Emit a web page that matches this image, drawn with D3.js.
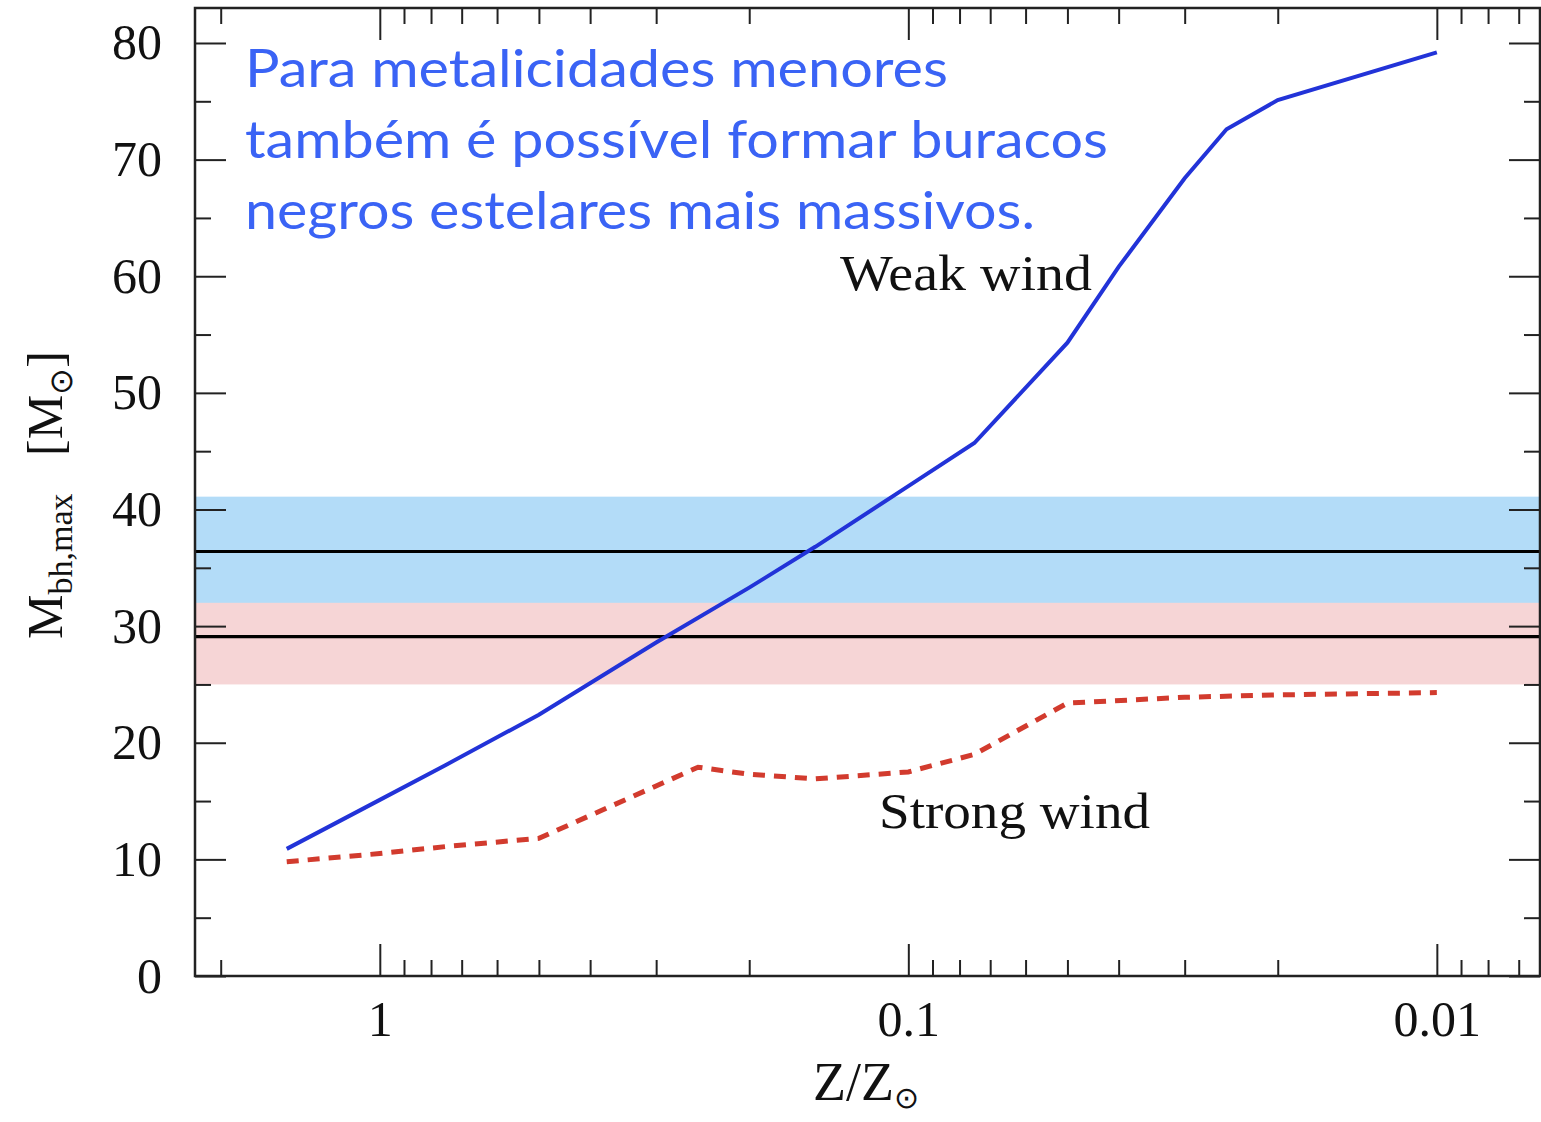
<!DOCTYPE html>
<html>
<head>
<meta charset="utf-8">
<script src="https://cdn.jsdelivr.net/npm/d3@7"></script>
<style>
  body { margin: 0; background: #fff; }
  svg { display: block; }
</style>
</head>
<body>
<svg id="chart" width="1541" height="1122"></svg>
<script>
// metallicity Z/Zsun and max black hole mass (Msun)
var weakZ = [1.5, 1, 0.75, 0.5, 0.3, 0.2, 0.15, 0.1, 0.075, 0.05, 0.04, 0.03, 0.025, 0.02, 0.01];
var weakM = [10.9, 15.1, 18.1, 22.4, 28.6, 33.3, 36.8, 42.0, 45.7, 54.3, 60.8, 68.4, 72.6, 75.1, 79.2];

var strongZ = [1.5, 1, 0.75, 0.5, 0.25, 0.2, 0.15, 0.1, 0.075, 0.05, 0.03, 0.02, 0.01];
var strongM = [9.8, 10.5, 11.1, 11.8, 17.9, 17.3, 16.9, 17.5, 19.0, 23.4, 23.9, 24.1, 24.3];

// GW150914 component masses and bands
var bandNames = ["m2", "m1"];
var bandLow = [25.0, 32.0];
var bandHigh = [33.0, 41.1];
var bandMid = [29.1, 36.4];
var bandColors = ["#f6d5d6", "#b3dcf8"];

var xMajor = [1, 0.1, 0.01];
var xMajorLabels = ["1", "0.1", "0.01"];
var xMinor = [2, 0.9, 0.8, 0.7, 0.6, 0.5, 0.4, 0.3, 0.2,
              0.09, 0.08, 0.07, 0.06, 0.05, 0.04, 0.03, 0.02,
              0.009, 0.008, 0.007];
var yMajor = [0, 10, 20, 30, 40, 50, 60, 70, 80];
var yMinor = [5, 15, 25, 35, 45, 55, 65, 75];

var noteLines = ["Para metalicidades menores",
                 "também é possível formar buracos",
                 "negros estelares mais massivos."];

var pLeft = 195, pRight = 1540, pTop = 8, pBottom = 976;

var svg = d3.select("#chart");

var x = d3.scaleLog().domain([2.237, 0.00638]).range([pLeft, pRight]);
var y = d3.scaleLinear().domain([0, 83]).range([pBottom, pTop]);

// bands
svg.append("g").selectAll("rect")
    .data(bandNames)
    .enter()
    .append("rect")
    .attr("x", pLeft)
    .attr("width", pRight - pLeft)
    .attr("y", (d, i) => y(bandHigh[i]))
    .attr("height", (d, i) => y(bandLow[i]) - y(bandHigh[i]))
    .attr("fill", (d, i) => bandColors[i]);

svg.append("g").selectAll("line")
    .data(bandMid)
    .enter()
    .append("line")
    .attr("x1", pLeft).attr("x2", pRight)
    .attr("y1", d => y(d)).attr("y2", d => y(d))
    .attr("stroke", "#000")
    .attr("stroke-width", 3.2);

// curves
var line = d3.line()
    .x(d => x(d[0]))
    .y(d => y(d[1]));

svg.append("path")
    .datum(d3.zip(weakZ, weakM))
    .attr("d", line)
    .attr("fill", "none")
    .attr("stroke", "#2233d8")
    .attr("stroke-width", 4);

svg.append("path")
    .datum(d3.zip(strongZ, strongM))
    .attr("d", line)
    .attr("fill", "none")
    .attr("stroke", "#d23b2e")
    .attr("stroke-width", 5)
    .attr("stroke-dasharray", "12,9");

// axes: ticks pointing inward on all four sides
function styleAxis(g) {
    g.select(".domain").remove();
    g.selectAll(".tick line").attr("stroke", "#222").attr("stroke-width", 2);
    g.selectAll("text")
        .attr("font-family", "Liberation Serif, serif")
        .attr("font-size", 50)
        .attr("fill", "#111");
}

svg.append("g").attr("transform", "translate(0," + pBottom + ")")
    .call(d3.axisBottom(x).tickValues(xMajor).tickSize(-32).tickPadding(24)
        .tickFormat((d, i) => xMajorLabels[i]))
    .call(styleAxis);
svg.append("g").attr("transform", "translate(0," + pBottom + ")")
    .call(d3.axisBottom(x).tickValues(xMinor).tickSize(-16).tickFormat(""))
    .call(styleAxis);
svg.append("g").attr("transform", "translate(0," + pTop + ")")
    .call(d3.axisTop(x).tickValues(xMajor).tickSize(-32).tickFormat(""))
    .call(styleAxis);
svg.append("g").attr("transform", "translate(0," + pTop + ")")
    .call(d3.axisTop(x).tickValues(xMinor).tickSize(-16).tickFormat(""))
    .call(styleAxis);

svg.append("g").attr("transform", "translate(" + pLeft + ",0)")
    .call(d3.axisLeft(y).tickValues(yMajor).tickSize(-31).tickPadding(33))
    .call(styleAxis);
svg.append("g").attr("transform", "translate(" + pLeft + ",0)")
    .call(d3.axisLeft(y).tickValues(yMinor).tickSize(-16).tickFormat(""))
    .call(styleAxis);
svg.append("g").attr("transform", "translate(" + pRight + ",0)")
    .call(d3.axisRight(y).tickValues(yMajor).tickSize(-31).tickFormat(""))
    .call(styleAxis);
svg.append("g").attr("transform", "translate(" + pRight + ",0)")
    .call(d3.axisRight(y).tickValues(yMinor).tickSize(-16).tickFormat(""))
    .call(styleAxis);

// frame
svg.append("rect")
    .attr("x", pLeft).attr("y", pTop)
    .attr("width", pRight - pLeft).attr("height", pBottom - pTop)
    .attr("fill", "none")
    .attr("stroke", "#222")
    .attr("stroke-width", 2.5);

// axis titles
var xt = svg.append("text")
    .attr("x", 866).attr("y", 1100)
    .attr("text-anchor", "middle")
    .attr("font-family", "Liberation Serif, serif")
    .attr("font-size", 54)
    .attr("fill", "#111");
xt.append("tspan").text("Z/Z");
xt.append("tspan").attr("font-size", 30).attr("dy", 8).text("\u2299");

var yt = svg.append("text")
    .attr("transform", "translate(62,495) rotate(-90)")
    .attr("text-anchor", "middle")
    .attr("font-family", "Liberation Serif, serif")
    .attr("font-size", 50)
    .attr("fill", "#111");
yt.append("tspan").text("M");
yt.append("tspan").attr("font-size", 34).attr("dy", 10).text("bh,max");
yt.append("tspan").attr("dy", -10).text("\u2002 [M");
yt.append("tspan").attr("font-size", 32).attr("dy", 10).text("\u2299");
yt.append("tspan").attr("dy", -10).text("]");

// curve labels
svg.append("text")
    .attr("x", 840).attr("y", 290)
    .attr("font-family", "Liberation Serif, serif")
    .attr("font-size", 50)
    .attr("textLength", 252)
    .attr("lengthAdjust", "spacingAndGlyphs")
    .attr("fill", "#111")
    .text("Weak wind");

svg.append("text")
    .attr("x", 879).attr("y", 828)
    .attr("font-family", "Liberation Serif, serif")
    .attr("font-size", 50)
    .attr("textLength", 271)
    .attr("lengthAdjust", "spacingAndGlyphs")
    .attr("fill", "#111")
    .text("Strong wind");

// annotation
var noteWidths = [703, 863, 790];
svg.append("g").selectAll("text")
    .data(noteLines)
    .enter()
    .append("text")
    .attr("x", 245)
    .attr("y", (d, i) => 87 + i * 71)
    .attr("font-family", "Lato, 'Open Sans', sans-serif")
    .attr("font-size", 52)
    .attr("textLength", (d, i) => noteWidths[i])
    .attr("lengthAdjust", "spacingAndGlyphs")
    .attr("fill", "#3a63f5")
    .text(d => d);
</script>
</body>
</html>
